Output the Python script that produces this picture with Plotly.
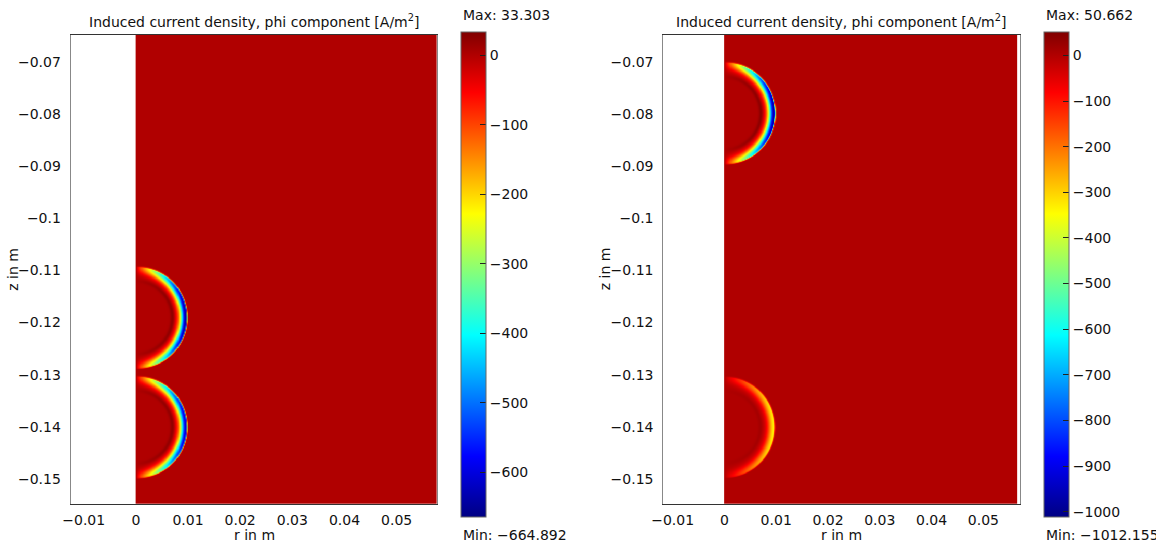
import numpy as np
import plotly.graph_objects as go

W, H = 1156, 547

# ---------------- data ----------------
# sphere parameters, left panel
left_sphere_z = [-0.1190, -0.1400]       # centre z of each sphere [m]
left_sphere_radius = [0.0097, 0.0097]    # radius [m]
left_sphere_peak = [-665.0, -630.0]      # surface current density at equator [A/m^2]
left_min, left_max = -664.892, 33.303
left_ticks = [0, -100, -200, -300, -400, -500, -600]

# sphere parameters, right panel
right_sphere_z = [-0.0798, -0.1400]
right_sphere_radius = [0.0097, 0.0096]
right_sphere_peak = [-1012.0, -340.0]
right_min, right_max = -1012.155, 50.662
right_ticks = [0, -100, -200, -300, -400, -500, -600, -700, -800, -900, -1000]

band_width = 0.00125       # width of the negative surface band [m]
ring_depth = 0.0027        # depth of the faint positive ring [m]
ring_width = 0.0004
ring_strength = 0.045      # relative to surface peak
angle_exponent = 0.8

left_r_max, right_r_max = 0.0577, 0.0565
z_lo, z_hi = -0.1548, -0.0648

x_ticks = [-0.01, 0, 0.01, 0.02, 0.03, 0.04, 0.05]
y_ticks = [-0.07, -0.08, -0.09, -0.1, -0.11, -0.12, -0.13, -0.14, -0.15]

title_text = "Induced current density, phi component [A/m<sup>2</sup>]"

jet = [[0.0, "rgb(0,0,131)"], [0.125, "rgb(0,0,255)"], [0.375, "rgb(0,255,255)"],
       [0.625, "rgb(255,255,0)"], [0.875, "rgb(255,0,0)"], [1.0, "rgb(128,0,0)"]]


def field(r_max, zs, radii, peaks):
    r = np.arange(0.0, r_max + 1e-9, 0.0001)
    z = np.arange(z_lo, z_hi + 1e-9, 0.0001)
    R, Z = np.meshgrid(r, z)
    J = np.zeros_like(R)
    for zc, rad, a in zip(zs, radii, peaks):
        dist = np.sqrt(R ** 2 + (Z - zc) ** 2)
        d = rad - dist
        edge = 0.5 * (1 + np.tanh((d + 0.0001) / 0.0001))
        s = (R / np.maximum(dist, 1e-12)) ** angle_exponent
        dd = np.maximum(d, 0)
        prof = np.exp(-(dd / band_width) ** 2) - ring_strength * np.exp(-((dd - ring_depth) / ring_width) ** 2)
        J += a * s * prof * edge
    return r, z, J.astype(np.float32)


def px_x(p):
    return p / W


def px_y(p):
    return 1 - p / H


fig = go.Figure()

panels = [
    dict(xa="x", ya="y", r_max=left_r_max, zs=left_sphere_z, radii=left_sphere_radius,
         peaks=left_sphere_peak, vmin=left_min, vmax=left_max, ticks=left_ticks,
         dom=(70.7, 437.3), xr=(-0.0125, 0.0578), cbx=460.5),
    dict(xa="x2", ya="y2", r_max=right_r_max, zs=right_sphere_z, radii=right_sphere_radius,
         peaks=right_sphere_peak, vmin=right_min, vmax=right_max, ticks=right_ticks,
         dom=(663.3, 1019.6), xr=(-0.0118, 0.0570), cbx=1043.6),
]

plot_top, plot_bot = 34.7, 504.0
cb_top, cb_bot = 32.5, 517.0
FONT = "DejaVu Sans"
FS = 14

for i, p in enumerate(panels):
    r, z, J = field(p["r_max"], p["zs"], p["radii"], p["peaks"])
    fig.add_trace(go.Heatmap(
        x=r, y=z, z=J, xaxis=p["xa"], yaxis=p["ya"],
        colorscale=jet, zmin=p["vmin"], zmax=p["vmax"], zsmooth="best",
        hoverinfo="skip",
        colorbar=dict(
            x=px_x(p["cbx"]), xanchor="left", xpad=0,
            y=px_y((cb_top + cb_bot) / 2), yanchor="middle", ypad=0,
            len=(cb_bot - cb_top) / H, lenmode="fraction",
            thickness=25, thicknessmode="pixels",
            outlinewidth=1, outlinecolor="#666",
            tickvals=p["ticks"], ticks="inside", ticklen=6, tickcolor="#222",
            tickfont=dict(family=FONT, size=FS, color="#111"),
        ),
    ))
    sfx = "" if i == 0 else "2"
    axis_common = dict(showgrid=False, zeroline=False, showline=True, mirror=True,
                       automargin=False, ticks="",
                       tickfont=dict(family=FONT, size=FS, color="#111"))
    fig.layout["xaxis" + sfx] = dict(
        domain=[px_x(p["dom"][0]), px_x(p["dom"][1])], range=list(p["xr"]),
        tickvals=x_ticks, anchor="y" + sfx, linecolor="#333", linewidth=1,
        ticklabelstandoff=3, **axis_common)
    fig.layout["yaxis" + sfx] = dict(
        domain=[px_y(plot_bot), px_y(plot_top)], range=[z_lo, z_hi],
        tickvals=y_ticks, anchor="x" + sfx, linecolor="#888", linewidth=1,
        ticklabelstandoff=6, **axis_common)

    cx = (p["dom"][0] + p["dom"][1]) / 2
    font = dict(family=FONT, size=FS, color="#111")
    fig.add_annotation(text=title_text, x=px_x(cx), y=px_y(21), xref="paper", yref="paper",
                       showarrow=False, xanchor="center", yanchor="middle", font=font)
    fig.add_annotation(text="r in m", x=px_x(cx), y=px_y(535), xref="paper", yref="paper",
                       showarrow=False, xanchor="center", yanchor="middle", font=font)
    fig.add_annotation(text="z in m", x=px_x(p["dom"][0] - 58), y=px_y(269), xref="paper",
                       yref="paper", showarrow=False, textangle=-90,
                       xanchor="center", yanchor="middle", font=font)
    fig.add_annotation(text=f"Max: {p['vmax']:.3f}", x=px_x(p["cbx"]), y=px_y(15),
                       xref="paper", yref="paper", showarrow=False,
                       xanchor="left", yanchor="middle", font=font)
    fig.add_annotation(text=f"Min: \u2212{abs(p['vmin']):.3f}", x=px_x(p["cbx"]), y=px_y(535),
                       xref="paper", yref="paper", showarrow=False,
                       xanchor="left", yanchor="middle", font=font)

fig.update_layout(width=W, height=H, margin=dict(l=0, r=0, t=0, b=0, autoexpand=False),
                  paper_bgcolor="white", plot_bgcolor="white", showlegend=False)

fig.write_html("out.html", config={"displayModeBar": False},
               post_script="document.body.style.margin='0';document.body.style.overflow='hidden';")
